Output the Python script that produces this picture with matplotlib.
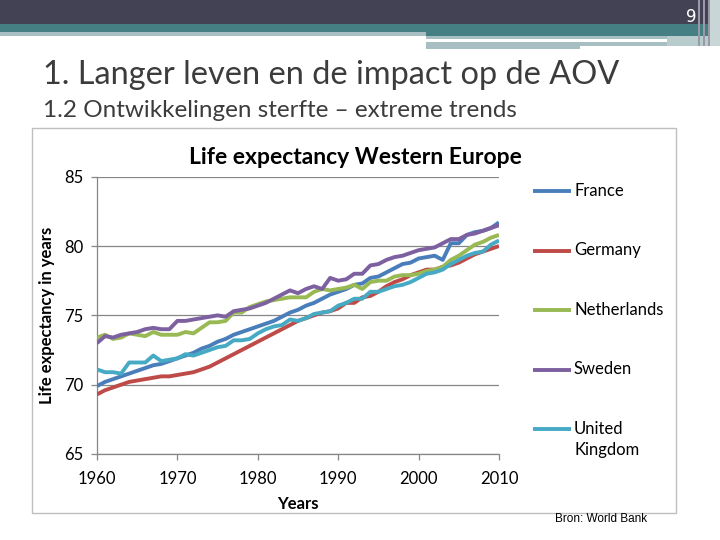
import matplotlib
matplotlib.use("Agg")
import matplotlib.pyplot as plt
from matplotlib.patches import Rectangle

# ========== DATA ========== #
years = list(range(1960, 2011))

france = [69.9, 70.2, 70.4, 70.6, 70.8, 71.0, 71.2, 71.4, 71.5, 71.7,
          71.9, 72.1, 72.3, 72.6, 72.8, 73.1, 73.3, 73.6, 73.8, 74.0,
          74.2, 74.4, 74.6, 74.9, 75.2, 75.4, 75.7, 75.9, 76.2, 76.5,
          76.7, 76.9, 77.2, 77.3, 77.7, 77.8, 78.1, 78.4, 78.7, 78.8,
          79.1, 79.2, 79.3, 79.0, 80.2, 80.2, 80.8, 81.0, 81.1, 81.3,
          81.7]
germany = [69.3, 69.6, 69.8, 70.0, 70.2, 70.3, 70.4, 70.5, 70.6, 70.6,
           70.7, 70.8, 70.9, 71.1, 71.3, 71.6, 71.9, 72.2, 72.5, 72.8,
           73.1, 73.4, 73.7, 74.0, 74.3, 74.6, 74.8, 75.0, 75.2, 75.3,
           75.5, 75.9, 75.9, 76.3, 76.4, 76.7, 77.1, 77.4, 77.6, 77.9,
           78.1, 78.3, 78.3, 78.5, 78.6, 78.8, 79.1, 79.4, 79.6, 79.8,
           80.0]
netherlands = [73.4, 73.6, 73.3, 73.4, 73.7, 73.6, 73.5, 73.8, 73.6, 73.6,
               73.6, 73.8, 73.7, 74.1, 74.5, 74.5, 74.6, 75.2, 75.2, 75.6,
               75.8, 76.0, 76.1, 76.2, 76.3, 76.3, 76.3, 76.7, 76.9, 76.8,
               76.9, 77.0, 77.2, 76.9, 77.4, 77.5, 77.5, 77.8, 77.9, 77.9,
               78.0, 78.2, 78.3, 78.5, 79.0, 79.3, 79.7, 80.1, 80.3, 80.6,
               80.8]
sweden = [73.0, 73.5, 73.4, 73.6, 73.7, 73.8, 74.0, 74.1, 74.0, 74.0,
          74.6, 74.6, 74.7, 74.8, 74.9, 75.0, 74.9, 75.3, 75.4, 75.5,
          75.7, 75.9, 76.2, 76.5, 76.8, 76.6, 76.9, 77.1, 76.9, 77.7,
          77.5, 77.6, 78.0, 78.0, 78.6, 78.7, 79.0, 79.2, 79.3, 79.5,
          79.7, 79.8, 79.9, 80.2, 80.5, 80.5, 80.8, 80.9, 81.1, 81.3,
          81.5]
uk = [71.1, 70.9, 70.9, 70.8, 71.6, 71.6, 71.6, 72.1, 71.7, 71.8,
      71.9, 72.2, 72.1, 72.3, 72.5, 72.7, 72.8, 73.2, 73.2, 73.3,
      73.7, 74.0, 74.2, 74.3, 74.7, 74.6, 74.8, 75.1, 75.2, 75.3,
      75.7, 75.9, 76.2, 76.2, 76.7, 76.7, 76.9, 77.1, 77.2, 77.4,
      77.7, 78.0, 78.1, 78.3, 78.7, 79.0, 79.3, 79.5, 79.6, 80.1,
      80.4]

countries = ["France", "Germany", "Netherlands", "Sweden", "United\nKingdom"]
series = [france, germany, netherlands, sweden, uk]
colors = ["#4a7ebb", "#be4b48", "#98b954", "#7d60a0", "#46aac5"]

y_ticks = [65, 70, 75, 80, 85]
x_ticks = [1960, 1970, 1980, 1990, 2000, 2010]

W, H = 720, 540
fig = plt.figure(figsize=(W / 100, H / 100), dpi=100)
renderer = fig.canvas.get_renderer()

# background layer in pixel coordinates (slide decoration)
bg = fig.add_axes([0, 0, 1, 1])
bg.set_xlim(0, W)
bg.set_ylim(H, 0)
bg.axis("off")


def rect(x, y, w, h, c):
    bg.add_patch(Rectangle((x, y), w, h, facecolor=c, edgecolor="none"))


def fit_text(x, y, s, width_px, size=12, **kw):
    t = bg.text(x, y, s, fontsize=size, **kw)
    w = t.get_window_extent(renderer).width
    t.set_fontsize(size * width_px / w)
    return t


# header bars
dark, teal, light = "#424254", "#467f83", "#a7bfc2"
rect(0, 0, W, 24, dark)
rect(0, 24, W, 8, teal)
rect(0, 32, 426, 4, light)
rect(426, 32, 294, 4, teal)
rect(426, 36, 294, 3, light)
rect(426, 42, 241, 4, light)
rect(426, 46, 154, 3, light)
rect(667, 36, 53, 10, "#b9cccd")
rect(710, 0, 10, 46, "#c9d6d8")
for vx in [698, 703, 708]:
    rect(vx, 0, 1.5, 46, "#9a9aa6")
bg.text(691, 17, "9", color="white", fontsize=12, ha="center", va="center",
        family="DejaVu Sans")

# slide titles
fit_text(43, 84, "1. Langer leven en de impact op de AOV", 577, size=20,
         color="#3c3c3c", family="Lato", va="baseline")
fit_text(43, 117, "1.2 Ontwikkelingen sterfte \u2013 extreme trends", 474, size=14,
         color="#3c3c3c", family="Lato", va="baseline")

# chart frame
bg.add_patch(Rectangle((32, 128), 644, 385, facecolor="white",
                       edgecolor="#bfbfbf", linewidth=1))
fit_text(355, 158, "Life expectancy Western Europe", 335, size=14,
         fontweight="bold", family="Lato", ha="center", va="center")
bg.text(601, 519, "Bron: World Bank", fontsize=8.5, family="Liberation Sans",
        ha="center", va="center")

# ========== CHART ========== #
ax = fig.add_axes([97 / W, 1 - 454 / H, 402 / W, 277.3 / H])
ax.patch.set_alpha(0)
for name, vals, c in zip(countries, series, colors):
    ax.plot(years, vals, color=c, linewidth=2.8, solid_joinstyle="round",
            solid_capstyle="butt", label=name, zorder=3)

ax.set_xlim(1960, 2010)
ax.set_ylim(65, 85)
ax.set_xticks(x_ticks)
ax.set_yticks(y_ticks)
ax.grid(axis="y", color="#868686", linewidth=0.9)
for s in ["top", "right"]:
    ax.spines[s].set_visible(False)
for s in ["left", "bottom"]:
    ax.spines[s].set_color("#868686")
    ax.spines[s].set_linewidth(0.9)
ax.tick_params(axis="both", colors="#868686", length=4.5, width=0.9,
               labelcolor="black", labelsize=12)
ax.tick_params(axis="x", pad=8)
ax.tick_params(axis="y", pad=5)
for lab in ax.get_xticklabels() + ax.get_yticklabels():
    lab.set_family("Lato")
ax.set_xlabel("Years", fontsize=12, fontweight="bold", family="Lato", labelpad=6)
ax.set_ylabel("Life expectancy in years", fontsize=12, fontweight="bold",
              family="Lato", labelpad=7)

# legend, laid out like the Excel one
for i, (name, c) in enumerate(zip(countries, colors)):
    ly = 191 + i * 59.5
    bg.plot([533, 571], [ly, ly], color=c, linewidth=2.8, solid_capstyle="butt")
    bg.text(574, ly - 8, name, fontsize=12, family="Lato", va="top",
            linespacing=1.35)

fig.savefig("out.png", dpi=100)
